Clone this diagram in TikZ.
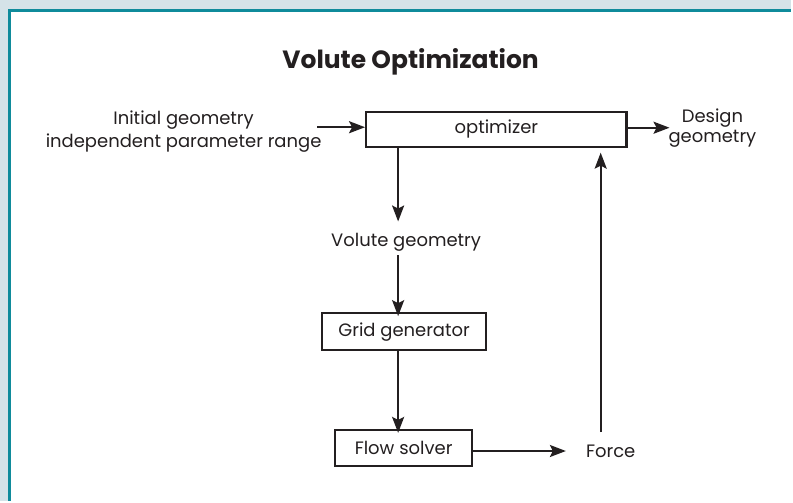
\documentclass[tikz,border=0pt]{standalone}
\usepackage{fontspec}
\setmainfont{Poppins}
\usetikzlibrary{arrows.meta}
\definecolor{pagebg}{HTML}{D5E3E8}
\definecolor{frameteal}{HTML}{0F8B9B}
\definecolor{ink}{HTML}{231F20}

\begin{document}
\begin{tikzpicture}[x=1pt,y=-1pt,
  lbl/.style={font=\fontsize{18}{23}\selectfont, text=ink, inner sep=0pt, align=center},
  flowbox/.style={draw=ink, line width=2.3pt, inner sep=0pt, font=\fontsize{18}{22}\selectfont, text=ink},
  flow/.style={draw=ink, line width=2.2pt, -{Stealth[length=16pt,width=12pt,inset=3pt]}},
]
% page and frame
\fill[pagebg] (0,0) rectangle (793,502);
\fill[white] (9.5,10.5) rectangle (793,502);
\draw[frameteal, line width=3.5pt] (9.5,502) -- (9.5,10.5) -- (793,10.5);
\useasboundingbox (0,0) rectangle (793,502);

% title
\node[font=\fontsize{25}{30}\selectfont\bfseries, text=ink, inner sep=0pt, anchor=base] (title) at (411.5,69) {Volute Optimization};

% boxes
\node[flowbox, minimum width=261pt, minimum height=35pt] (opt) at (497.5,129.5) {optimizer};
\node[flowbox, minimum width=164pt, minimum height=37pt] (grid) at (405,332.5) {Grid generator};
\node[flowbox, minimum width=137pt, minimum height=36pt] (solver) at (404.5,449) {Flow solver};

% labels (base anchor sits on the last line)
\node[lbl, anchor=base] (init) at (184,148) {Initial geometry\\independent parameter range};
\node[lbl, anchor=base, font=\fontsize{18}{20}\selectfont] (design) at (714,143) {Design\\geometry};
\node[lbl, anchor=base] (vol) at (407,247) {Volute geometry};
\node[lbl, anchor=base] (force) at (612,458) {Force};

\coordinate (inA) at (318,127.5);
\coordinate (dOut) at (671,128);
\coordinate (up) at (602,433);

% connectors
\draw[flow] (inA) -- (inA -| opt.west);
\draw[flow] (opt.east |- dOut) -- (dOut);
\draw[flow] (opt.south -| 399,0) -- (399,222);
\draw[flow] (399,256) -- ([yshift=-4pt]grid.north -| 399,0);
\draw[flow] (grid.south -| 399,0) -- ([yshift=-4pt]solver.north -| 399,0);
\draw[flow] (solver.east |- 0,452) -- ([xshift=-20pt]force.west |- 0,452);
\draw[flow] (up) -- (602,153);
\end{tikzpicture}
\end{document}
